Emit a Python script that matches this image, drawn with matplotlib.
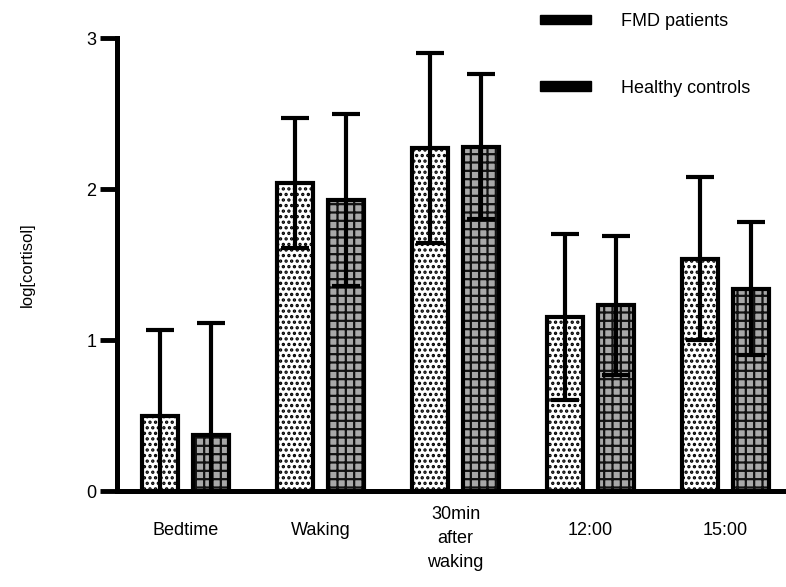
import matplotlib
matplotlib.use('Agg')
from matplotlib import pyplot as plt
from matplotlib.patches import Patch
import matplotlib.transforms as mtransforms
import numpy as np

plt.rcParams['font.family'] = ['Liberation Sans', 'DejaVu Sans']

times = ['Bedtime', 'Waking', '30min\nafter\nwaking', '12:00', '15:00']
fmd_mean = [0.50, 2.04, 2.27, 1.15, 1.54]
fmd_sd = [0.57, 0.43, 0.63, 0.55, 0.54]
ctrl_mean = [0.37, 1.93, 2.28, 1.23, 1.34]
ctrl_sd = [0.74, 0.57, 0.48, 0.46, 0.44]
labels = ['FMD patients', 'Healthy controls']

plt.rcParams['hatch.linewidth'] = 1.6

fig = plt.figure(figsize=(7.86, 5.87), dpi=100)
ax = fig.add_axes([0.149, 0.1635, 0.851, 0.7715])

x = np.arange(len(times))
w = 0.267
off = 0.189

# fills with hatch (hatch colour comes from edgecolor)
ax.bar(x - off, fmd_mean, w, color='white', edgecolor='black', hatch='...', linewidth=0, zorder=2)
ax.bar(x + off, ctrl_mean, w, color='#a8a8a8', edgecolor='#111111', hatch='++', linewidth=0, zorder=2)
# outlines
ax.bar(x - off, fmd_mean, w, color='none', edgecolor='black', linewidth=3, zorder=3)
ax.bar(x + off, ctrl_mean, w, color='none', edgecolor='black', linewidth=3, zorder=3)

ax.errorbar(x - off, fmd_mean, yerr=fmd_sd, fmt='none', ecolor='black',
            elinewidth=3, capsize=10, capthick=3, zorder=4)
ax.errorbar(x + off, ctrl_mean, yerr=ctrl_sd, fmt='none', ecolor='black',
            elinewidth=3, capsize=10, capthick=3, zorder=4)

ax.set_xlim(-0.507, 4.448)
ax.set_ylim(0, 3)
ax.set_yticks([0, 1, 2, 3])
ax.set_xticks(x)
ax.set_xticklabels(times, fontsize=13, linespacing=1.55)
ax.tick_params(axis='x', length=0, pad=22)
ax.tick_params(axis='y', direction='out', length=12, width=3.5, labelsize=13, pad=3)
# the three-line label sits a bit higher
lab = ax.get_xticklabels()[2]
lab.set_transform(lab.get_transform() + mtransforms.ScaledTranslation(0, 16 / 100, fig.dpi_scale_trans))
for s in ['top', 'right']:
    ax.spines[s].set_visible(False)
for s in ['left', 'bottom']:
    ax.spines[s].set_linewidth(3.6)
ax.set_ylabel('log[cortisol]', fontsize=12, labelpad=37)

handles = [Patch(facecolor='black', edgecolor='black'), Patch(facecolor='black', edgecolor='black')]
fig.legend(handles, labels, loc='upper left', bbox_to_anchor=(0.687, 0.978),
           frameon=False, fontsize=13, handlelength=2.8, handleheight=0.45,
           labelspacing=2.75, handletextpad=1.7, borderpad=0, borderaxespad=0)

fig.savefig('out.png', dpi=100)
